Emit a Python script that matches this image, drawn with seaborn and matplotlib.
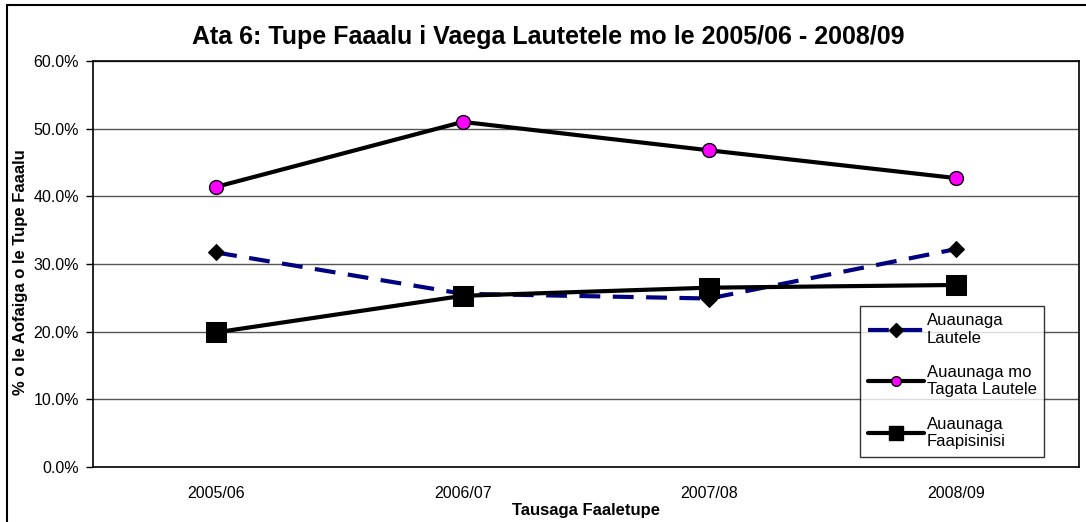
import matplotlib
matplotlib.use("Agg")
import matplotlib.pyplot as plt
import matplotlib.patches as mpatches
from matplotlib.lines import Line2D
from matplotlib.ticker import PercentFormatter
import pandas as pd
import seaborn as sns

# Tausaga (years)
years = ["2005/06", "2006/07", "2007/08", "2008/09"]
# % o le Aofaiga o le Tupe Faaalu
lautele = [31.7, 25.6, 24.9, 32.2]
tagata_lautele = [41.4, 51.0, 46.8, 42.7]
faapisinisi = [19.9, 25.3, 26.5, 26.9]

labels = ["Auaunaga\nLautele", "Auaunaga mo\nTagata Lautele", "Auaunaga\nFaapisinisi"]

sns.set_style("white")
plt.rcParams["font.family"] = ["Liberation Sans", "DejaVu Sans"]
plt.rcParams.update({"text.color": "black", "axes.labelcolor": "black",
                     "xtick.color": "black", "ytick.color": "black"})

fig = plt.figure(figsize=(10.86, 5.22), dpi=100)
ax = fig.add_axes([93 / 1086, 55 / 522, 986 / 1086, 406 / 522])

# chart frame (Excel style)
fig.patches.append(mpatches.Rectangle((7 / 1086, -0.1), 1.2, 1.1 - 5 / 522,
                                      transform=fig.transFigure, fill=False,
                                      edgecolor="black", linewidth=1.5))

df = pd.DataFrame({"year": years * 3,
                   "value": lautele + tagata_lautele + faapisinisi,
                   "series": [labels[0]] * 4 + [labels[1]] * 4 + [labels[2]] * 4})

sns.lineplot(data=df[df.series == labels[0]], x="year", y="value", ax=ax,
             color="#000080", linewidth=3, linestyle=(0, (5, 3)),
             marker="D", markersize=8, markerfacecolor="black", markeredgecolor="black")
sns.lineplot(data=df[df.series == labels[1]], x="year", y="value", ax=ax,
             color="black", linewidth=3, marker="o", markersize=10,
             markerfacecolor="#FF00FF", markeredgecolor="black", markeredgewidth=1)
sns.lineplot(data=df[df.series == labels[2]], x="year", y="value", ax=ax,
             color="black", linewidth=3, marker="s", markersize=14,
             markerfacecolor="black", markeredgecolor="black")

ax.set_xlim(-0.5, 3.5)
ax.set_ylim(0, 60)
ax.set_yticks(range(0, 61, 10))
ax.yaxis.set_major_formatter(PercentFormatter(decimals=1))
ax.grid(axis="y", color="#555555", linewidth=1)
ax.set_axisbelow(True)
for s in ax.spines.values():
    s.set_color("black")
    s.set_linewidth(1.2)
ax.tick_params(axis="y", which="major", direction="out", length=5, width=1,
               color="black", labelsize=11.5, pad=5, left=True)
ax.tick_params(axis="x", labelsize=11.5, pad=10, bottom=False)

ax.set_xlabel("Tausaga Faaletupe", fontsize=12, fontweight="bold")
ax.xaxis.set_label_coords(0.5, (467 - 503) / 406)
ax.set_ylabel("% o le Aofaiga o le Tupe Faaalu", fontsize=12, fontweight="bold")
ax.yaxis.set_label_coords((21 - 93) / 986, 0.48)
ax.yaxis.label.set_va("center")
fig.text(548 / 1086, 1 - 37 / 522,
         "Ata 6: Tupe Faaalu i Vaega Lautetele mo le 2005/06 - 2008/09",
         fontsize=18, fontweight="bold", ha="center", va="center")

handles = [
    Line2D([], [], color="#000080", linewidth=3, linestyle=(0, (5, 3)), marker="D",
           markersize=7, markerfacecolor="black", markeredgecolor="black"),
    Line2D([], [], color="black", linewidth=3, marker="o", markersize=7,
           markerfacecolor="#FF00FF", markeredgecolor="black"),
    Line2D([], [], color="black", linewidth=3, marker="s", markersize=10,
           markerfacecolor="black", markeredgecolor="black"),
]
leg = ax.legend(handles, labels, loc="upper left",
                bbox_to_anchor=((860 - 93) / 986, (467 - 306) / 406),
                fontsize=12, frameon=True, fancybox=False, edgecolor="black",
                handlelength=3.4, handletextpad=0.15, labelspacing=1.15,
                borderpad=0.45, borderaxespad=0)
leg.get_frame().set_linewidth(1)

fig.savefig("out.png", dpi=100)
